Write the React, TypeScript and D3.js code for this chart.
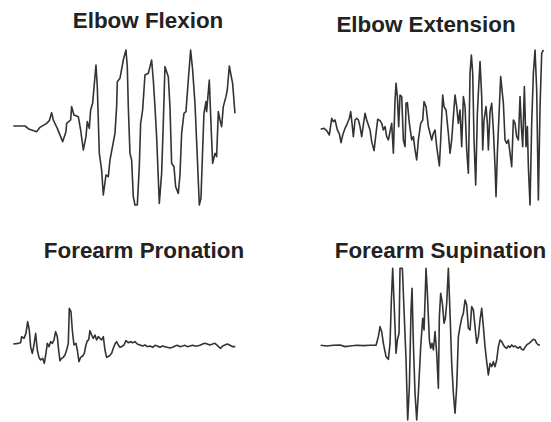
import React from 'react';
import { scaleLinear, line, curveLinear } from 'd3';

// EMG traces, time in samples, amplitude in arbitrary units (0 = rest)

const flexionTime = [0, 35, 48, 70, 80, 100, 108, 115, 120, 132, 148, 158, 160, 172, 175, 182, 195, 202, 210, 218, 222, 228, 232, 238, 248, 252, 258, 265, 270, 278, 285, 290, 305, 310, 312, 320, 330, 338, 342, 345, 350, 355, 360, 365, 372, 378, 382, 388, 395, 405, 415, 420, 425, 430, 438, 445, 450, 455, 465, 470, 475, 482, 487, 495, 500, 505, 512, 518, 525, 532, 538, 545, 552, 558, 563, 568, 572, 578, 580, 588, 593, 598, 605, 610, 615, 620, 625, 630, 638, 642, 648, 653, 658, 665];
const flexionAmp = [0, 0, -10, -17, -4, 8, 16, 40, 18, -7, -47, -17, 8, 18, 58, 33, 28, -12, -72, -32, 13, -7, 48, 68, 183, 118, -82, -132, -207, -147, -152, -102, -22, 58, 133, 143, 198, 228, 178, 58, -82, -102, -212, -237, -237, -122, 8, 48, 153, 158, 198, 138, 58, -32, -232, -142, 8, 178, 148, 58, -112, -122, -182, -202, -147, -22, 38, 43, 138, 228, 168, 68, -92, -237, -217, -72, 38, 73, 43, 138, 8, -112, -82, -92, 43, 18, -2, 58, 88, 108, 180, 153, 128, 38];

const extensionTime = [0, 10, 18, 26, 33, 38, 43, 50, 56, 61, 66, 73, 80, 86, 90, 94, 98, 103, 108, 113, 118, 123, 128, 133, 138, 143, 148, 153, 160, 166, 171, 178, 183, 188, 193, 198, 203, 208, 213, 218, 223, 226, 230, 234, 238, 243, 248, 253, 256, 260, 266, 273, 278, 283, 288, 293, 300, 306, 310, 316, 323, 328, 333, 338, 343, 348, 356, 360, 366, 370, 376, 383, 388, 393, 398, 403, 408, 413, 418, 423, 428, 433, 438, 443, 448, 452, 456, 460, 465, 470, 474, 478, 483, 486, 490, 496, 500, 503, 508, 513, 518, 523, 526, 530, 536, 540, 544, 548, 553, 558, 563, 568, 573, 578, 583, 588, 593, 598, 602, 606, 611, 616, 620, 623, 628, 633, 638, 643, 648, 653, 658, 663, 668];
const extensionAmp = [0, 3, -4, -17, 33, 23, 28, -2, -14, -40, -17, 3, 18, 33, 53, 18, -22, 28, 33, 28, 8, -22, 13, 48, 28, 13, -2, -37, -64, -12, 30, 26, 18, -2, 8, -22, -32, -7, 18, -72, 88, 138, 98, 8, 103, 98, -32, -52, 78, 80, 18, -32, -22, -62, -92, -32, 18, 28, 83, 68, 8, -12, -32, -12, -2, -52, -110, -32, 103, 68, 58, -12, -72, -32, 38, 103, 68, 18, 58, -52, 98, 68, -62, -132, 168, 223, 168, -32, -167, 48, 128, 203, 98, -62, 28, 68, 18, -62, 53, 78, -2, -112, -202, -72, 68, 158, 118, 78, -32, -42, -32, -72, -112, 28, 18, -22, -32, 98, 8, -52, 128, -52, 8, -112, -227, 18, 168, 238, 118, -212, 68, 228, 238];

const pronationTime = [0, 15, 22, 25, 32, 38, 43, 48, 52, 57, 62, 67, 72, 77, 82, 88, 93, 98, 102, 107, 112, 117, 122, 127, 132, 136, 140, 145, 150, 155, 160, 165, 168, 173, 177, 182, 188, 192, 197, 202, 208, 213, 218, 222, 226, 230, 235, 240, 245, 250, 255, 260, 265, 270, 275, 280, 288, 295, 300, 305, 310, 315, 320, 325, 332, 338, 345, 352, 358, 365, 372, 380, 388, 395, 402, 410, 418, 425, 432, 440, 448, 455, 462, 470, 478, 485, 492, 500, 508, 515, 522, 530, 538, 545, 552, 560, 568, 575, 582, 590, 598, 605, 612, 618, 622, 628, 635, 642, 650, 658, 666];
const pronationAmp = [6, 8, 10, 28, 23, 38, 73, 48, -2, -22, 3, 38, -12, -34, -42, -37, -52, -22, 8, -2, 13, 8, 18, 43, 28, -12, -44, -37, -34, -27, -12, 8, 113, 103, 48, 3, 8, -12, -47, -34, -30, -22, 3, 16, 18, 46, 33, 23, 33, 18, 28, 23, 18, 28, -12, -34, -30, -22, -7, 6, 13, 3, -4, -2, 3, 16, 10, 13, 10, 13, 6, 3, 0, 3, -2, 0, -4, 2, 0, -4, 0, -2, -4, -6, -4, 0, 2, -2, 0, 2, -2, 0, 2, 0, 0, 2, 6, 8, 6, 3, 6, 8, 2, -4, -7, 0, 3, 6, 2, -2, -2];

const supinationTime = [0, 18, 38, 58, 73, 88, 108, 128, 148, 166, 173, 178, 183, 188, 196, 203, 208, 212, 216, 221, 226, 230, 235, 238, 245, 250, 256, 261, 266, 271, 274, 278, 283, 288, 293, 300, 306, 310, 314, 316, 320, 326, 330, 334, 338, 343, 348, 353, 356, 360, 365, 370, 374, 378, 383, 388, 393, 398, 403, 408, 413, 418, 423, 428, 433, 438, 443, 448, 453, 458, 463, 468, 473, 478, 483, 488, 493, 498, 503, 508, 513, 518, 523, 528, 533, 538, 543, 548, 553, 558, 563, 568, 573, 578, 583, 588, 593, 598, 603, 608, 613, 618, 628, 638, 643, 648, 653, 658];
const supinationAmp = [0, -2, 0, 1, -4, -2, 0, -1, 0, 0, 26, 56, 41, 6, -34, -42, 6, 136, 231, 106, -24, 16, 36, 231, 231, 106, -44, -224, -124, 106, 171, 6, -144, -224, -144, -4, 81, 46, 166, 231, 156, 16, -9, 6, -14, 41, -24, -129, 86, 156, 126, 66, 81, 126, 231, 96, -54, -144, -204, -124, 26, 56, 81, 96, 136, 121, 51, 46, 116, 106, 56, 6, 26, 76, 111, 56, -4, -49, -89, -54, -64, -49, -64, -44, -4, 16, 11, 1, -6, -9, -2, -6, 1, -4, -2, -6, -9, -4, -12, -14, -6, 1, 8, 18, 16, 6, 1, 1];

const titles = ['Elbow Flexion', 'Elbow Extension', 'Forearm Pronation', 'Forearm Supination'];
const times = [flexionTime, extensionTime, pronationTime, supinationTime];
const amps = [flexionAmp, extensionAmp, pronationAmp, supinationAmp];

// layout of the 2x2 grid
const panels = [
	{ left: 13.3, base: 126, titleX: 148, titleY: 27.7 },
	{ left: 320.7, base: 129.3, titleX: 426, titleY: 31.7 },
	{ left: 13.3, base: 346, titleX: 144, titleY: 257.5 },
	{ left: 320.7, base: 345.3, titleX: 440.5, titleY: 257.5 }
];

const W = 551;
const H = 422;

export default function App() {
	return (
		<svg width={W} height={H} style={{ position: 'absolute', left: 0, top: 0, background: '#fff' }}>
			{panels.map((p, i) => {
				const x = scaleLinear().domain([0, 700]).range([p.left, p.left + 700 / 3]);
				const y = scaleLinear().domain([-250, 250]).range([p.base + 250 / 3, p.base - 250 / 3]);
				const pts = times[i].map((t, j) => ({ t, a: amps[i][j] }));
				const lineFn = line<{ t: number; a: number }>()
					.x(d => x(d.t))
					.y(d => y(d.a))
					.curve(curveLinear);
				return (
					<g key={titles[i]}>
						<text
							x={p.titleX}
							y={p.titleY}
							textAnchor="middle"
							fontFamily="'Liberation Sans', Arial, Helvetica, sans-serif"
							fontWeight="bold"
							fontSize={22.4}
							fill="#222"
						>
							{titles[i]}
						</text>
						<path d={lineFn(pts) || ''} fill="none" stroke="#333" strokeWidth={1.6} strokeLinejoin="round" />
					</g>
				);
			})}
		</svg>
	);
}
